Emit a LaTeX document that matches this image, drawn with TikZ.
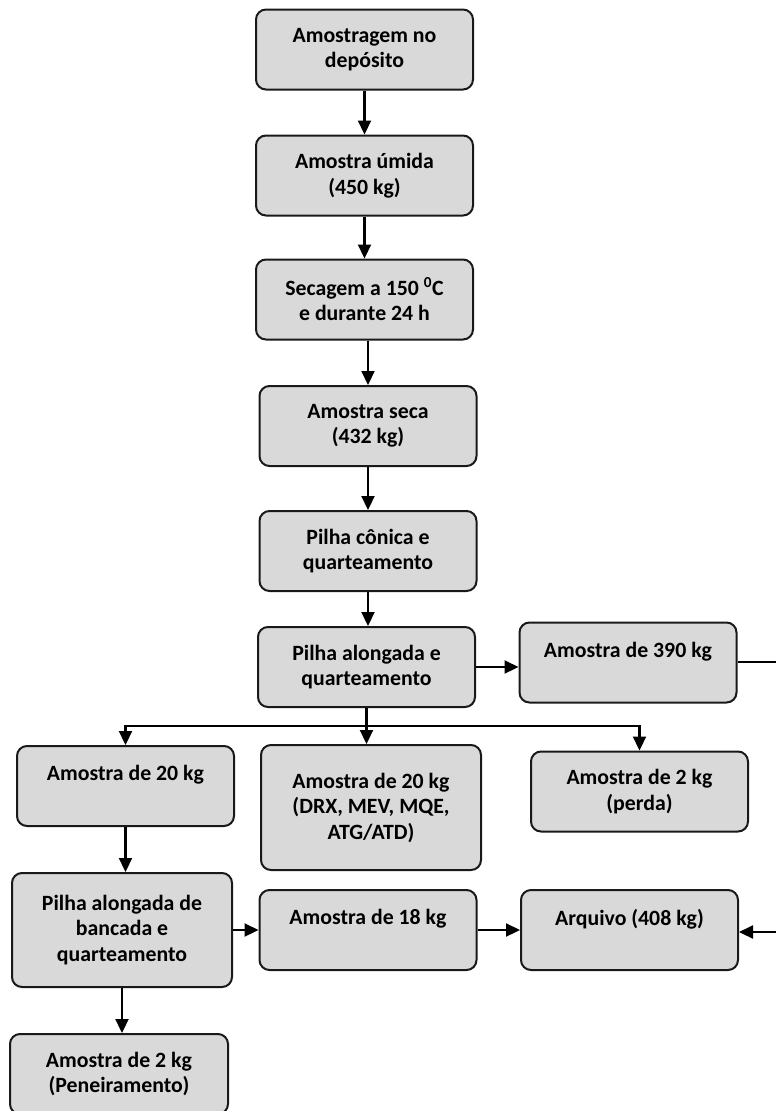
\documentclass[tikz,border=0pt]{standalone}
\usepackage{fontspec}
\setmainfont{Carlito}
\usetikzlibrary{arrows.meta}
\begin{document}
\begin{tikzpicture}[x=1pt,y=-1pt,
  etapa/.style={draw=black!90,line width=2pt,fill=black!15,rounded corners=10pt,
    minimum width=217pt,minimum height=80pt,align=center,inner sep=0pt,
    font=\fontsize{21.8}{25.5}\selectfont\bfseries},
  seta/.style={line width=2.2pt,-{Triangle[length=14pt,width=13pt]}},
  linha/.style={line width=2.2pt}]
\useasboundingbox (0,0) rectangle (776,1111);
\coordinate (P1) at (364.5,49.5);
\coordinate (P2) at (364.5,175.5);
\coordinate (P3) at (364.5,299.5);
\coordinate (P4) at (368,426);
\coordinate (P5) at (368,551);
\coordinate (P6) at (366.5,667);
\coordinate (Q6) at (628,662.5);
\coordinate (L7) at (125.5,786);
\coordinate (C7) at (371,807.5);
\coordinate (R7) at (639.5,791.5);
\coordinate (L8) at (122,930);
\coordinate (C8) at (368,930);
\coordinate (R8) at (629.5,930);
\coordinate (L9) at (119,1074);
\coordinate (E1) at (780,662);
\coordinate (E2) at (780,932);
\node[etapa] (deposito) at (P1) {Amostragem no\\dep\'osito};
\node[etapa] (umida) at (P2) {Amostra \'umida\\(450 kg)};
\node[etapa] (secagem) at (P3) {Secagem a 150 \textsuperscript{0}C\\e durante 24 h};
\node[etapa] (seca) at (P4) {Amostra seca\\(432 kg)};
\node[etapa] (conica) at (P5) {Pilha c\^onica e\\quarteamento};
\node[etapa] (alongada) at (P6) {Pilha alongada e\\quarteamento};
\node[etapa] (a390) at (Q6) {Amostra de 390 kg\\~};
\node[etapa] (a20) at (L7) {Amostra de 20 kg\\~};
\node[etapa,minimum width=220pt,minimum height=125pt] (analises) at (C7) {Amostra de 20 kg\\(DRX, MEV, MQE,\\ATG/ATD)};
\node[etapa] (perda) at (R7) {Amostra de 2 kg\\(perda)};
\node[etapa,minimum width=220pt,minimum height=114pt] (bancada) at (L8) {Pilha alongada de\\bancada e\\quarteamento};
\node[etapa] (a18) at (C8) {Amostra de 18 kg\\~};
\node[etapa] (arquivo) at (R8) {Arquivo (408 kg)\\~};
\node[etapa,minimum width=218pt] (peneira) at (L9) {Amostra de 2 kg\\(Peneiramento)};
\coordinate (ramo) at (alongada.south |- 0,726);
\draw[seta] (deposito) -- (deposito.south |- umida.north);
\draw[seta] (umida) -- (umida.south |- secagem.north);
\draw[seta] (seca.north |- secagem.south) -- (seca.north);
\draw[seta] (seca) -- (seca.south |- conica.north);
\draw[seta] (conica) -- (conica.south |- alongada.north);
\draw[seta] (alongada.east) -- (alongada.east -| a390.west);
\draw[linha] (a390.east |- E1) -- (E1);
\draw[seta] (alongada.south) -- (alongada.south |- analises.north);
\draw[seta] (ramo) -| (a20.north);
\draw[seta] (ramo) -| (perda.north);
\draw[seta] (a20) -- (a20.south |- bancada.north);
\draw[seta] (bancada) -- (bancada.south |- peneira.north);
\draw[seta] (bancada.east) -- (bancada.east -| a18.west);
\draw[seta] (a18.east) -- (a18.east -| arquivo.west);
\draw[seta] (E2) -- (E2 -| arquivo.east);
\end{tikzpicture}
\end{document}
